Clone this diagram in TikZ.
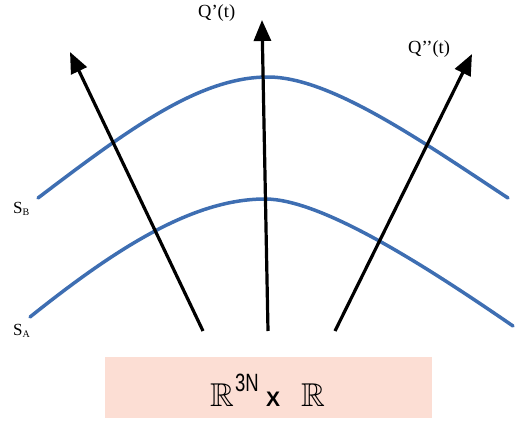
\documentclass[tikz,border=0pt]{standalone}
\usepackage{amssymb}
\usepackage{fontspec}
\setmainfont{Liberation Serif}
\newfontfamily\sansf{Liberation Sans}
\usetikzlibrary{arrows.meta}
\definecolor{curveblue}{RGB}{62,110,178}
\definecolor{boxfill}{RGB}{252,222,212}
\tikzset{
  surf/.style={curveblue, line width=3.5pt, line cap=round},
  ray/.style={black, line width=3.2pt, -{Triangle[length=21pt,width=17pt]}},
  lbl/.style={inner sep=0pt, anchor=base west, font=\fontsize{18.5}{20}\selectfont},
  slbl/.style={inner sep=0pt, anchor=base west, font=\fontsize{17}{18}\selectfont},
  bb/.style={inner sep=0pt, anchor=base west, font=\fontsize{33}{35}\selectfont},
}
\begin{document}
\begin{tikzpicture}[x=1pt,y=-1pt]
\useasboundingbox (0,0) rectangle (515,423);
% box
\node[fill=boxfill, minimum width=327pt, minimum height=61pt, inner sep=0pt] (box) at (268.5,387.5) {};
\node[bb] (r1) at (210,406) {$\mathbb{R}$};
\node[inner sep=0pt, anchor=base west] (sup) at (235,391) {\sansf\fontsize{25}{27}\selectfont\scalebox{0.74}[1]{3N}};
\node[inner sep=0pt, anchor=base west] (times) at (266,406) {\sansf\bfseries\fontsize{21}{22}\selectfont X};
\node[bb] (r2) at (301,406) {$\mathbb{R}$};
% surfaces
\draw[surf] (38,198) .. controls (130,128) and (200,77) .. (268,77)
            .. controls (330,77) and (420,140) .. (508,198);
\draw[surf] (30,317) .. controls (120,245) and (195,199) .. (265,199)
            .. controls (320,199) and (420,262) .. (513,326);
% arrows
\coordinate (la) at (203,331);
\coordinate (lb) at (70,52);
\coordinate (ma) at (268,331);
\coordinate (mb) at (262,20);
\coordinate (ra) at (335,331);
\coordinate (rb) at (472,54);
\draw[ray] (la) -- (lb);
\draw[ray] (ma) -- (mb);
\draw[ray] (ra) -- (rb);
% labels
\node[lbl] (qp) at (198,17) {Q’(t)};
\node[lbl] (qpp) at (408,53) {Q’’(t)};
\node[slbl] (sb) at (13,213) {S\textsubscript{\fontsize{10}{11}\selectfont B}};
\node[slbl] (sa) at (13,335) {S\textsubscript{\fontsize{10}{11}\selectfont A}};
\end{tikzpicture}
\end{document}
